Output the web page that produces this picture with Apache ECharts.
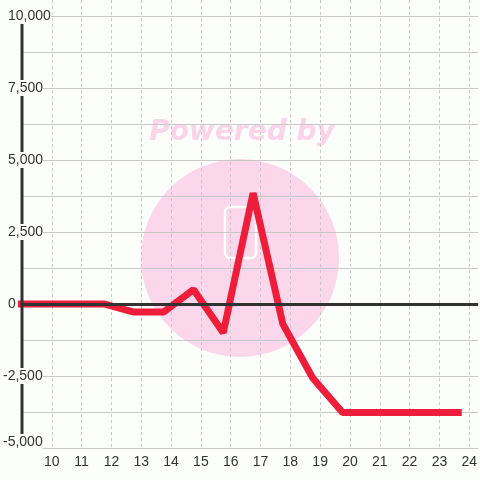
<!DOCTYPE html>
<html><head><meta charset="utf-8">
<script src="https://cdn.jsdelivr.net/npm/echarts@6/dist/echarts.min.js"></script>
<style>html,body{margin:0;padding:0;background:#fcfefc;}#c{width:480px;height:480px;}</style>
</head><body><div id="c"></div>
<script>
const xValues = [8.75, 9.75, 10.75, 11.75, 12.75, 13.75, 14.75, 15.75, 16.75, 17.75, 18.75, 19.75, 20.75, 21.75, 22.75, 23.75];
const yValues = [0, 0, 0, 0, -280, -280, 500, -1000, 3850, -700, -2570, -3770, -3770, -3770, -3770, -3770];
const xTicks = [10, 11, 12, 13, 14, 15, 16, 17, 18, 19, 20, 21, 22, 23, 24];
const yTickLabels = {10000: '10,000', 7500: '7,500', 5000: '5,000', 2500: '2,500', 0: '0', '-2500': '-2,500', '-5000': '-5,000'};

(function () {
const chart = echarts.init(document.getElementById('c'), null, {renderer: 'canvas'});
const font = {fontFamily: 'Liberation Sans, Arial, sans-serif', fontSize: 14, color: '#333'};
const yCommon = {type: 'value', min: -5000, max: 10555, interval: 1250, position: 'left'};
chart.setOption({
  backgroundColor: '#fcfefc',
  animation: false,
  grid: {left: 21, right: 0, top: 0, bottom: 32, containLabel: false},
  xAxis: {
    type: 'value', min: 9, max: 24.3, interval: 1, z: 1,
    axisLine: {show: false}, axisTick: {show: false},
    splitLine: {show: true, showMinLine: false, showMaxLine: false, lineStyle: {color: '#c8c8c8', type: [3, 3], width: 1}},
    axisLabel: Object.assign({}, font, {margin: 7, showMinLabel: false, showMaxLabel: false,
      formatter: v => xTicks.indexOf(v) >= 0 ? String(v) : ''})
  },
  yAxis: [
    Object.assign({}, yCommon, {
      z: 1, axisLine: {show: false}, axisTick: {show: false}, axisLabel: {show: false},
      splitLine: {show: true, showMaxLine: false, lineStyle: {color: '#c8c8c8', width: 1}}
    }),
    Object.assign({}, yCommon, {
      z: 5, axisLine: {show: false}, axisTick: {show: false}, splitLine: {show: false},
      axisLabel: Object.assign({}, font, {
        showMaxLabel: false, align: 'left', margin: 19,
        backgroundColor: '#fcfefc', padding: [1, 0, 1, 0],
        formatter: v => {
          const s = yTickLabels[v];
          if (s === undefined) return '';
          if (v === -5000) return '{nb|' + s + '}';
          if (v < 0) return '{n|' + s + '}';
          return '{p|' + s + '}';
        },
        rich: {
          p: {fontFamily: font.fontFamily, fontSize: 14, color: '#333', padding: [0, 0, 0, 5]},
          n: {fontFamily: font.fontFamily, fontSize: 14, color: '#333'},
          nb: {fontFamily: font.fontFamily, fontSize: 14, color: '#333', padding: [0, 0, 12, 0]}
        }
      })
    })
  ],
  series: [
    {
      type: 'line', data: [], z: 1, silent: true,
      markLine: {silent: true, symbol: 'none', label: {show: false},
        lineStyle: {color: '#333', width: 3, type: 'solid'},
        data: [{yAxis: 0}]}
    },
    {
      type: 'line', z: 2,
      data: xValues.map((x, i) => [x, yValues[i]]),
      showSymbol: false, symbol: 'none',
      lineStyle: {color: '#ee1e3a', width: 7, join: 'bevel'}
    }
  ]
});

const pTop = chart.convertToPixel({gridIndex: 0}, [9, 10000]);
const pBot = chart.convertToPixel({gridIndex: 0}, [9, -5000]);
chart.setOption({
  graphic: [
    {type: 'circle', z: 0, silent: true, shape: {cx: 240, cy: 258, r: 99}, style: {fill: '#fcd6ea'}},
    {type: 'rect', z: 0, silent: true, shape: {x: 225, y: 207, width: 31, height: 51, r: 5}, style: {fill: 'none', stroke: '#ffffff', lineWidth: 2.5}},
    {type: 'text', z: 0, silent: true, x: 242, y: 133,
      style: {text: 'Powered by', fill: '#fcd4e9', font: 'italic bold 28px "DejaVu Sans", sans-serif', align: 'center', verticalAlign: 'middle'}},
    {type: 'line', z: 4, silent: true, shape: {x1: pTop[0], y1: pTop[1], x2: pBot[0], y2: pBot[1]}, style: {stroke: '#333', lineWidth: 3}}
  ]
});
})();
</script></body></html>
